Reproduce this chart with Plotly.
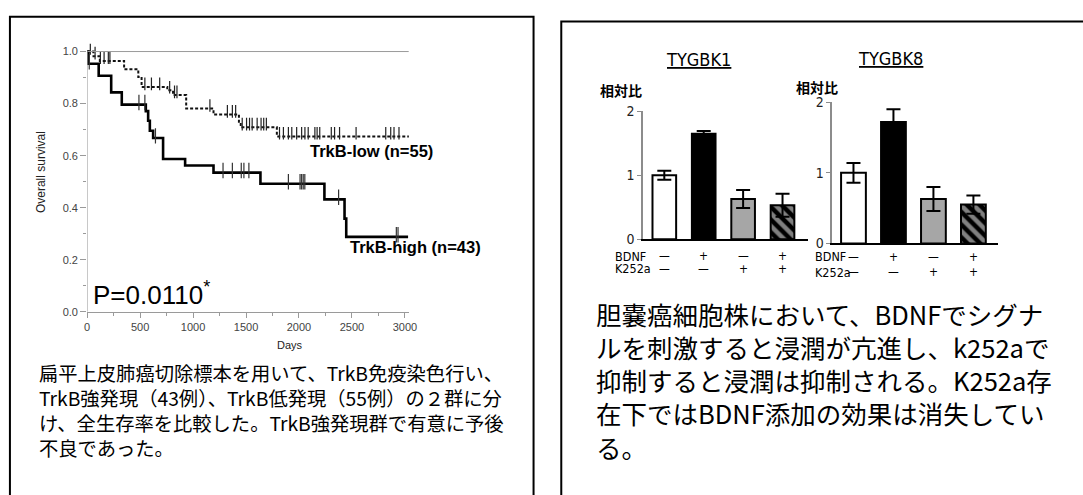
import numpy as np
import plotly.graph_objects as go

W, H = 1083, 495

# ---- Kaplan-Meier curves: step times (days) and survival after each step ----
high_days = [0, 12, 109, 227, 327, 554, 576, 592, 623, 717, 925, 1193, 1636, 2240, 2430, 2446, 3030]
high_surv = [1.0, 0.953, 0.907, 0.843, 0.796, 0.771, 0.734, 0.696, 0.668, 0.587, 0.562, 0.535,
             0.492, 0.432, 0.358, 0.288, 0.288]
high_censored = [20, 489, 545, 645, 1283, 1371, 1455, 1480, 1527, 1900, 2010, 2025, 2040, 2055,
                 2374, 2919, 2935]

low_days = [0, 60, 120, 349, 483, 514, 757, 811, 935, 1193, 1433, 1450, 1791, 3040]
low_surv = [1.0, 0.982, 0.964, 0.932, 0.902, 0.864, 0.851, 0.833, 0.781, 0.758, 0.730, 0.709,
            0.674, 0.674]
low_censored = [30, 75, 125, 160, 200, 215, 545, 607, 685, 779, 825, 848, 1159, 1324, 1371, 1402,
                1464, 1505, 1533, 1558, 1605, 1642, 1667, 1692, 1816, 1853, 1900, 1932, 1978,
                2025, 2056, 2087, 2150, 2171, 2196, 2305, 2336, 2383, 2539, 2819, 2866, 2897, 2944]

km_ticks = [0, 500, 1000, 1500, 2000, 2500, 3000]
surv_ticks = [0.0, 0.2, 0.4, 0.6, 0.8, 1.0]

# ---- Invasion assay (relative ratio) ----
conditions = ["対照", "BDNF", "K252a", "BDNF+K252a"]
tygbk1_mean = [1.00, 1.65, 0.63, 0.53]
tygbk1_err = [0.07, 0.04, 0.14, 0.18]
tygbk8_mean = [1.00, 1.72, 0.63, 0.55]
tygbk8_err = [0.14, 0.18, 0.17, 0.13]
bdnf_signs = ["—", "+", "—", "+"]
k252a_signs = ["—", "—", "+", "+"]
ratio_ticks = [0, 1, 2]

left_caption = [
    "扁平上皮肺癌切除標本を用いて、TrkB免疫染色行い、",
    "TrkB強発現（43例）、TrkB低発現（55例）の２群に分",
    "け、全生存率を比較した。TrkB強発現群で有意に予後",
    "不良であった。",
]
right_caption = [
    "胆嚢癌細胞株において、BDNFでシグナ",
    "ルを刺激すると浸潤が亢進し、k252aで",
    "抑制すると浸潤は抑制される。K252a存",
    "在下ではBDNF添加の効果は消失してい",
    "る。",
]

ARIAL = "Liberation Sans, Arial, Helvetica, sans-serif"
NARROW = "Liberation Sans Narrow, DejaVu Sans Condensed, Arial Narrow, Liberation Sans, sans-serif"
JP = "Noto Sans CJK JP, Noto Sans, sans-serif"


def fx(p):
    return p / W


def fy(p):
    return 1 - p / H


def level_at(days, surv, t):
    idx = np.searchsorted(np.asarray(days), np.asarray(t), side="right") - 1
    return np.asarray(surv)[idx]


fig = go.Figure()

# KM step lines
fig.add_trace(go.Scatter(x=low_days, y=low_surv, mode="lines", line_shape="hv",
                         line=dict(color="#111", width=2, dash="3px,2px"),
                         xaxis="x", yaxis="y", showlegend=False, hoverinfo="skip"))
fig.add_trace(go.Scatter(x=high_days, y=high_surv, mode="lines", line_shape="hv",
                         line=dict(color="black", width=2.6),
                         xaxis="x", yaxis="y", showlegend=False, hoverinfo="skip"))
# censor marks
fig.add_trace(go.Scatter(x=low_censored, y=level_at(low_days, low_surv, low_censored) + 0.012,
                         mode="markers",
                         marker=dict(symbol="line-ns", size=9, line=dict(color="#222", width=1.2)),
                         xaxis="x", yaxis="y", showlegend=False, hoverinfo="skip"))
fig.add_trace(go.Scatter(x=high_censored, y=level_at(high_days, high_surv, high_censored) + 0.008,
                         mode="markers",
                         marker=dict(symbol="line-ns", size=11, line=dict(color="#333", width=1.2)),
                         xaxis="x", yaxis="y", showlegend=False, hoverinfo="skip"))

# Bars
bar_fill = ["white", "black", "#a6a6a6", "black"]
bar_hatch = ["", "", "", "\\"]
for xa, ya, mean, err, bw in (("x2", "y2", tygbk1_mean, tygbk1_err, 0.6),
                              ("x3", "y3", tygbk8_mean, tygbk8_err, 0.62)):
    fig.add_trace(go.Bar(
        x=conditions, y=mean, width=bw, xaxis=xa, yaxis=ya, showlegend=False,
        marker=dict(color=bar_fill, line=dict(color="black", width=2),
                    pattern=dict(shape=bar_hatch, fgcolor="white", bgcolor=bar_fill,
                                 size=9, solidity=0.5)),
        error_y=dict(type="data", array=err, color="black", thickness=2, width=7),
        hoverinfo="skip"))

y_top_range = 1.03
km_y0, km_unit = 314, 269

fig.update_layout(
    width=W, height=H, margin=dict(l=0, r=0, t=0, b=0),
    paper_bgcolor="white", plot_bgcolor="white", showlegend=False,
    xaxis=dict(domain=[fx(85), fx(410)], range=[0, 3037], anchor="y",
               showline=True, linecolor="#9a9a9a", linewidth=1,
               ticks="outside", ticklen=5, tickcolor="#9a9a9a", tickvals=km_ticks,
               minor=dict(dtick=250, ticks="outside", ticklen=3, tickcolor="#9a9a9a"),
               tickfont=dict(family=ARIAL, size=11, color="#444"),
               showgrid=False, zeroline=False),
    yaxis=dict(domain=[fy(km_y0), fy(km_y0 - y_top_range * km_unit)], range=[0, y_top_range],
               anchor="x", showline=False,
               ticks="outside", ticklen=6, tickcolor="#9a9a9a", tickvals=surv_ticks,
               tickformat=".1f",
               minor=dict(tickvals=[0.1, 0.3, 0.5, 0.7, 0.9], ticks="outside", ticklen=3,
                          tickcolor="#9a9a9a"),
               tickfont=dict(family=ARIAL, size=11, color="#444"),
               showgrid=False, zeroline=False),
    xaxis2=dict(domain=[fx(647), fx(813)], range=[-0.53, 3.64], type="category", anchor="y2",
                showline=True, linecolor="black", linewidth=2, ticks="",
                showticklabels=False, showgrid=False, zeroline=False),
    yaxis2=dict(domain=[fy(239), fy(106.7)], range=[0, 2], anchor="x2",
                showline=True, linecolor="#8c8c8c", linewidth=2,
                ticks="outside", ticklen=4, tickcolor="#8c8c8c", tickvals=ratio_ticks,
                tickfont=dict(family=NARROW, size=14, color="#222"),
                showgrid=False, zeroline=False),
    xaxis3=dict(domain=[fx(838), fx(1005)], range=[-0.525, 3.61], type="category", anchor="y3",
                showline=True, linecolor="black", linewidth=2, ticks="",
                showticklabels=False, showgrid=False, zeroline=False),
    yaxis3=dict(domain=[fy(243.3), fy(97.3)], range=[0, 2], anchor="x3",
                showline=True, linecolor="#8c8c8c", linewidth=2,
                ticks="outside", ticklen=4, tickcolor="#8c8c8c", tickvals=ratio_ticks,
                tickfont=dict(family=NARROW, size=14, color="#222"),
                showgrid=False, zeroline=False),
)

shapes = [
    # panel frames
    dict(type="rect", xref="paper", yref="paper", x0=fx(7), x1=fx(536), y0=fy(510), y1=fy(9),
         line=dict(color="black", width=2)),
    dict(type="rect", xref="paper", yref="paper", x0=fx(564), x1=fx(1100), y0=fy(510), y1=fy(14),
         line=dict(color="black", width=2)),
    # KM frame: left axis line and reference line at 1.0
    dict(type="line", xref="x", yref="y", x0=0, x1=0, y0=0, y1=1.0,
         line=dict(color="#9a9a9a", width=1)),
    dict(type="line", xref="x", yref="y", x0=0, x1=3037, y0=1.0, y1=1.0,
         line=dict(color="#9a9a9a", width=1)),
]
fig.update_layout(shapes=shapes)

ann = []


def text(x, y, s, size, family, color="black", xanchor="center", **kw):
    d = dict(x=fx(x), y=fy(y), xref="paper", yref="paper", text=s, showarrow=False,
             xanchor=xanchor, yanchor="middle", borderpad=0,
             font=dict(size=size, family=family, color=color))
    d.update(kw)
    ann.append(d)


# KM labels
text(38, 170, "Overall survival", 12, ARIAL, "#222", textangle=-90)
text(290, 348, "Days", 11, ARIAL, "#222")
text(372, 148, "<b>TrkB-low (n=55)</b>", 16.5, ARIAL)
text(417, 247, "<b>TrkB-high (n=43)</b>", 16.5, ARIAL)
text(90, 295, "P=0.0110<sup>*</sup>", 26, ARIAL, xanchor="left")

# captions (one paragraph each)
text(35, 415.5, "<br>".join(left_caption), 19.3, JP, xanchor="left", align="left")
text(598, 384, "<br>".join(right_caption), 25.5, JP, xanchor="left", align="left")

# bar chart labels
text(703, 53, "<u>TYGBK1</u>", 18, NARROW)
text(897, 52, "<u>TYGBK8</u>", 18, NARROW)
text(624, 85, "<b>相対比</b>", 14, JP)
text(822, 82, "<b>相対比</b>", 14, JP)

# treatment rows under the bars
rows = (("x2", 617, 256.5, 269.5), ("x3", 819, 257, 273))
for xa, x_lab, y_b, y_k in rows:
    text(x_lab, y_b, "BDNF", 12.5, NARROW, xanchor="left")
    text(x_lab, y_k, "K252a", 12.5, NARROW, xanchor="left")
    for c, b, k in zip(conditions, bdnf_signs, k252a_signs):
        for sign, yy in ((b, y_b), (k, y_k)):
            ann.append(dict(x=c, xref=xa, y=fy(yy), yref="paper", text=sign, showarrow=False,
                            xanchor="center", yanchor="middle", borderpad=0,
                            font=dict(size=12, family=NARROW, color="black")))

fig.update_layout(annotations=ann)

# page without the default body margin so the figure starts at the window corner
fig.write_html("out.html", post_script="document.body.style.margin='0';")
